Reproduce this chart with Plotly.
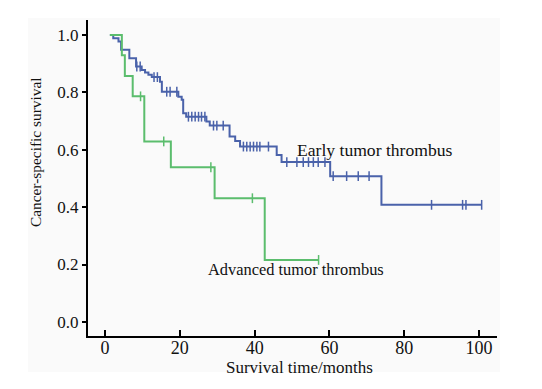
import plotly.graph_objects as go

# ---- data ----
start_time = 1.3
# Early tumor thrombus: event times and survival after each drop
early_event_times = [2.2, 3.6, 4.3, 6.5, 8.3, 9.8, 10.7, 11.6, 12.5, 14.7, 15.2,
                     19.6, 20.5, 20.9, 21.7, 27.1, 28.0, 33.3, 34.8, 36.1,
                     45.9, 47.2, 60.2, 73.9]
early_surv = [0.988, 0.977, 0.948, 0.919, 0.890, 0.878, 0.869, 0.861, 0.853, 0.837, 0.802,
              0.785, 0.774, 0.727, 0.715, 0.698, 0.684, 0.646, 0.630, 0.611,
              0.582, 0.557, 0.508, 0.408]
early_censor_times = [8.5, 9.4, 13.1, 14.0, 16.5, 17.4, 19.2,
                      22.3, 23.2, 24.1, 25.0, 25.8, 26.7,
                      29.0, 29.9, 31.6,
                      37.0, 37.9, 38.8, 39.7, 40.6, 41.4, 43.7,
                      48.6, 51.3, 53.0, 54.4, 55.7, 57.0, 58.8,
                      61.0, 64.6, 67.7, 70.6,
                      87.3, 95.6, 96.5, 100.7]

# Advanced tumor thrombus
adv_event_times = [4.5, 5.3, 7.4, 10.5, 17.6, 29.3, 42.7]
adv_surv = [0.929, 0.857, 0.786, 0.629, 0.539, 0.431, 0.216]
adv_censor_times = [9.5, 15.7, 28.3, 39.4, 57.1]

x_ticks = [0, 20, 40, 60, 80, 100]
y_ticks = [0.0, 0.2, 0.4, 0.6, 0.8, 1.0]
y_tick_labels = ["0.0", "0.2", "0.4", "0.6", "0.8", "1.0"]

group_names = ["Early tumor thrombus", "Advanced tumor thrombus"]
x_title = "Survival time/months"
y_title = "Cancer-specific survival"
colors = ["#4a62aa", "#5bbd6d"]

FONT = "Liberation Serif, Times New Roman, serif"


def step_curve(events, surv, censors):
    end = max(max(censors), max(events))
    xs = [start_time] + list(events) + [end]
    ys = [1.0] + list(surv) + [surv[-1]]
    return xs, ys


def surv_at(t, events, surv):
    s = 1.0
    for e, v in zip(events, surv):
        if e <= t:
            s = v
    return s


fig = go.Figure()
for name, ev, sv, cs, col in [
    (group_names[0], early_event_times, early_surv, early_censor_times, colors[0]),
    (group_names[1], adv_event_times, adv_surv, adv_censor_times, colors[1]),
]:
    xs, ys = step_curve(ev, sv, cs)
    fig.add_trace(go.Scatter(x=xs, y=ys, mode="lines", line=dict(color=col, width=2, shape="hv"),
                             name=name, showlegend=False, hoverinfo="skip"))
    fig.add_trace(go.Scatter(x=cs, y=[surv_at(c, ev, sv) for c in cs], mode="markers",
                             marker=dict(symbol="line-ns-open", size=7, color=col,
                                         line=dict(color=col, width=1.5)),
                             showlegend=False, hoverinfo="skip"))

fig.add_annotation(x=50.8, y=0.599, text=group_names[0], showarrow=False, xanchor="left",
                   yanchor="middle", font=dict(family=FONT, size=17.6, color="#111"))
fig.add_annotation(x=26.9, y=0.181, text=group_names[1], showarrow=False, xanchor="left",
                   yanchor="middle", font=dict(family=FONT, size=16.4, color="#111"))
# axis titles placed as paper annotations
fig.add_annotation(x=0.516, y=-0.1, xref="paper", yref="paper", text=x_title, showarrow=False,
                   xanchor="center", yanchor="middle", font=dict(family=FONT, size=17, color="#111"))
fig.add_annotation(x=-0.1296, y=0.582, xref="paper", yref="paper", text=y_title, showarrow=False,
                   textangle=-90, xanchor="center", yanchor="middle",
                   font=dict(family=FONT, size=15.4, color="#111"))

fig.update_layout(
    width=542, height=389,
    margin=dict(l=88, r=45, t=20, b=53, autoexpand=False),
    paper_bgcolor="#ffffff", plot_bgcolor="#fafafa",
    font=dict(family=FONT, color="#111"),
    hovermode=False,
    shapes=[dict(type="rect", xref="paper", yref="paper", x0=-0.147, x1=1.007, y0=-0.114, y1=1.006,
                 fillcolor="#fafafa", line=dict(width=0), layer="below")],
)
fig.update_xaxes(range=[-4.55, 104.8], tickvals=x_ticks, ticks="inside", ticklen=6, tickwidth=2,
                 tickcolor="#000", showline=True, linecolor="#000", linewidth=2, showgrid=False,
                 zeroline=False, automargin=False, ticklabelstandoff=-6,
                 tickfont=dict(family=FONT, size=18, color="#111"))
fig.update_yaxes(range=[-0.049, 1.052], tickvals=y_ticks, ticktext=y_tick_labels, ticks="outside",
                 ticklen=4, tickwidth=2, tickcolor="#000", showline=True, linecolor="#000", linewidth=2,
                 showgrid=False, zeroline=False, automargin=False,
                 tickfont=dict(family=FONT, size=17, color="#111"))

fig.write_html("out.html", config={"displayModeBar": False},
               post_script="document.body.style.margin='0px';")
